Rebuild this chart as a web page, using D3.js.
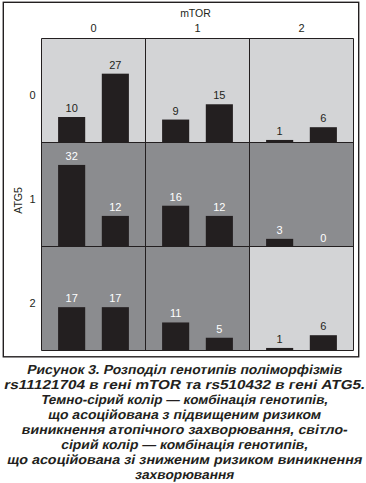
<!DOCTYPE html>
<html>
<head>
<meta charset="utf-8">
<script src="https://cdn.jsdelivr.net/npm/d3@7"></script>
<style>
  body { margin: 0; background: #fff; }
  svg text { font-family: "Liberation Sans", Arial, sans-serif; }
</style>
</head>
<body>
<svg width="366" height="483"></svg>
<script>
// genotype levels
var mtorLevels = ["0", "1", "2"];
var atgLevels = ["0", "1", "2"];
var barKeys = ["a", "b"];

// counts per cell, rows = ATG5, cols = mTOR, two bars each
var counts0 = [[10, 27], [9, 15], [1, 6]];
var counts1 = [[32, 12], [16, 12], [3, 0]];
var counts2 = [[17, 17], [11, 5], [1, 6]];
var counts = [counts0, counts1, counts2];

// risk: "high" = dark grey, "low" = light grey
var risk = [["low", "low", "low"], ["high", "high", "high"], ["high", "high", "low"]];

var captionLines = [
  "Рисунок 3. Розподіл генотипів поліморфізмів",
  "rs11121704 в гені mTOR та rs510432 в гені ATG5.",
  "Темно-сірий колір — комбінація генотипів,",
  "що асоційована з підвищеним ризиком",
  "виникнення атопічного захворювання, світло-",
  "сірий колір — комбінація генотипів,",
  "що асоційована зі зниженим ризиком виникнення",
  "захворювання"
];
var captionWidths = [315, 361, 287, 273, 326, 247, 355, 99];

var svg = d3.select("svg");
var ink = "#231f20";
var fill = {low: "#d3d4d6", high: "#8b8c8f"};

var gx0 = 41.5, gy0 = 38.5, gw = 312, gh = 312;

var colScale = d3.scaleBand().domain(mtorLevels).range([gx0, gx0 + gw]);
var rowScale = d3.scaleBand().domain(atgLevels).range([gy0, gy0 + gh]);
var cell = colScale.bandwidth();
var xBar = d3.scaleBand().domain(barKeys).range([0, cell]).paddingInner(0.38).paddingOuter(0.38);
var yVal = d3.scaleLinear().domain([0, 40.8]).range([cell, 0]);

// outer frame
svg.append("rect")
  .attr("x", 3.3).attr("y", 2.3).attr("width", 355.4).attr("height", 354.5)
  .attr("fill", "none").attr("stroke", ink).attr("stroke-width", 1.4);

var cells = [];
atgLevels.forEach(function(r, i) {
  mtorLevels.forEach(function(c, j) {
    cells.push({row: r, col: c, risk: risk[i][j], values: counts[i][j]});
  });
});

var g = svg.selectAll("g.cell")
  .data(cells)
  .enter()
  .append("g")
  .attr("class", "cell")
  .attr("transform", d => "translate(" + colScale(d.col) + "," + rowScale(d.row) + ")");

g.append("rect")
  .attr("width", cell).attr("height", cell)
  .attr("fill", d => fill[d.risk]);

g.selectAll("rect.bar")
  .data(d => d.values.map((v, k) => ({key: barKeys[k], v: v})))
  .enter()
  .append("rect")
  .attr("class", "bar")
  .attr("x", d => xBar(d.key))
  .attr("width", xBar.bandwidth())
  .attr("y", d => yVal(d.v))
  .attr("height", d => cell - yVal(d.v))
  .attr("fill", ink);

g.each(function(c) {
  d3.select(this).selectAll("text.val")
    .data(c.values.map((v, k) => ({key: barKeys[k], v: v})))
    .enter()
    .append("text")
    .attr("class", "val")
    .attr("x", d => xBar(d.key) + xBar.bandwidth() / 2)
    .attr("y", d => yVal(d.v) - 5)
    .attr("text-anchor", "middle")
    .attr("font-size", 11)
    .attr("fill", c.risk == "high" ? "#fff" : ink)
    .text(d => d.v);
});

// grid lines
[0, 1, 2, 3].forEach(function(k) {
  svg.append("line")
    .attr("x1", gx0 + k * cell).attr("x2", gx0 + k * cell)
    .attr("y1", gy0).attr("y2", gy0 + gh)
    .attr("stroke", ink).attr("stroke-width", 1);
  svg.append("line")
    .attr("y1", gy0 + k * cell).attr("y2", gy0 + k * cell)
    .attr("x1", gx0).attr("x2", gx0 + gw)
    .attr("stroke", ink).attr("stroke-width", 1);
});

// headers
svg.append("text")
  .attr("x", gx0 + gw / 2 - 2).attr("y", 16.5)
  .attr("text-anchor", "middle").attr("font-size", 10.5).attr("fill", ink)
  .text("mTOR");

svg.selectAll("text.colLab")
  .data(mtorLevels)
  .enter()
  .append("text")
  .attr("class", "colLab")
  .attr("x", d => colScale(d) + cell / 2)
  .attr("y", 32.3)
  .attr("text-anchor", "middle").attr("font-size", 11).attr("fill", ink)
  .text(d => d);

svg.selectAll("text.rowLab")
  .data(atgLevels)
  .enter()
  .append("text")
  .attr("class", "rowLab")
  .attr("x", 32.5)
  .attr("y", d => rowScale(d) + cell / 2 + 8.5)
  .attr("text-anchor", "middle").attr("font-size", 11).attr("fill", ink)
  .text(d => d);

svg.append("text")
  .attr("transform", "translate(21.5," + (gy0 + gh / 2 + 6) + ") rotate(-90)")
  .attr("text-anchor", "middle").attr("font-size", 10.5).attr("fill", ink)
  .text("ATG5");

// caption - slanted upright bold (oblique, not cursive forms)
svg.selectAll("text.cap")
  .data(captionLines)
  .enter()
  .append("text")
  .attr("class", "cap")
  .attr("transform", (d, i) => "translate(184," + (374 + i * 15) + ") skewX(-12)")
  .attr("text-anchor", "middle")
  .attr("font-size", 13)
  .attr("font-weight", "bold")
  .attr("fill", ink)
  .attr("textLength", (d, i) => captionWidths[i])
  .attr("lengthAdjust", "spacingAndGlyphs")
  .text(d => d);
</script>
</body>
</html>
